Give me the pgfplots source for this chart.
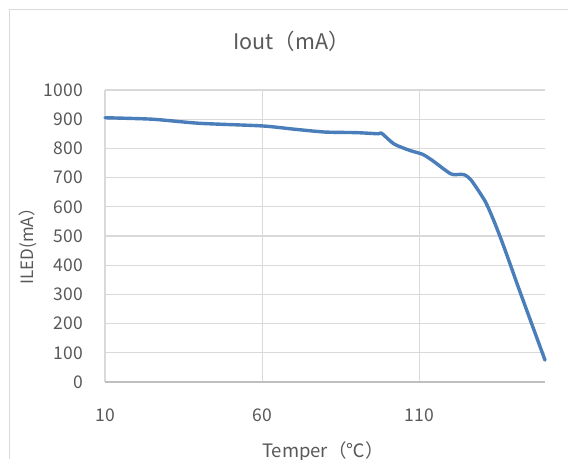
\documentclass[border=0pt]{standalone}
\usepackage{fontspec}
\setmainfont{Noto Sans CJK SC}
\usepackage{pgfplots}
\pgfplotsset{compat=1.18}

\definecolor{linecol}{HTML}{4A7EBB}
\definecolor{gridcol}{HTML}{D9D9D9}
\definecolor{axiscol}{HTML}{BFBFBF}
\definecolor{txtcol}{HTML}{595959}

\begin{document}
\begin{tikzpicture}[x=1pt,y=1pt]
\path[use as bounding box] (0,0) rectangle (568,459);
\fill[white] (0,0) rectangle (568,459);
% chart frame (left and top edges are visible in the crop)
\draw[gridcol, line width=1.2pt] (9.5,0) -- (9.5,449.5) -- (568,449.5);

\begin{axis}[
    at={(105pt,77pt)}, anchor=south west,
    scale only axis,
    width=440pt, height=292pt,
    xmin=10, xmax=150,
    ymin=0, ymax=1000,
    xtick={10,60,110},
    ytick={0,100,...,1000},
    major tick length=0pt,
    axis line style={draw=none},
    xmajorgrids=true, ymajorgrids=true,
    grid style={gridcol, line width=1.1pt},
    clip=false,
    /pgf/number format/assume math mode=true,
    /pgf/number format/set thousands separator={},
    tick label style={font=\fontsize{17.5}{20}\selectfont, text=txtcol, inner sep=0pt},
    yticklabel style={anchor=east, xshift=-22pt},
    xticklabel style={anchor=north, yshift=-27pt},
    title={Iout（mA）},
    title style={at={(axis description cs:0.424,1.147)}, anchor=center,
                 font=\fontsize{21.5}{24}\selectfont, text=txtcol},
    xlabel={Temper（℃）},
    xlabel style={at={(axis description cs:0.495,-0.24)}, anchor=center,
                  font=\fontsize{18.5}{21}\selectfont, text=txtcol},
    ylabel={ILED(mA）},
    ylabel style={at={(axis description cs:-0.175,0.479)}, anchor=center,
                  rotate=0, font=\fontsize{17}{19}\selectfont, text=txtcol},
]
\draw[axiscol, line width=1.2pt] (axis cs:10,0) -- (axis cs:150,0);

\addplot[color=linecol, line width=3.4pt, smooth, tension=0.4, line cap=round] coordinates {
    (10,905)
    (25,900)
    (40,886)
    (60,877)
    (70,866)
    (80,856)
    (90,854)
    (97,850)
    (98,852)
    (102,815)
    (107,793)
    (111,780)
    (114,760)
    (120,713)
    (123,711)
    (124.5,709)
    (126.6,690)
    (130.9,620)
    (133.5,558)
    (136.2,484)
    (138.9,404)
    (141.7,319)
    (150,75)
};
\end{axis}
\end{tikzpicture}
\end{document}
